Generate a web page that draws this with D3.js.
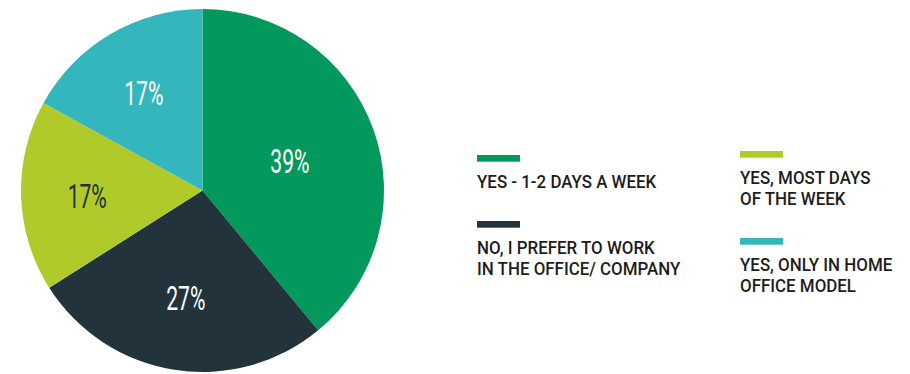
<!DOCTYPE html>
<html>
<head>
<meta charset="utf-8">
<script src="https://cdn.jsdelivr.net/npm/d3@7/dist/d3.min.js"></script>
<style>
  html, body { margin: 0; padding: 0; background: #ffffff; }
  svg { display: block; }
</style>
</head>
<body>
<svg id="chart" width="910" height="374"></svg>
<script>
// ---- data ----
const categories = [
  "YES - 1-2 DAYS A WEEK",
  "NO, I PREFER TO WORK IN THE OFFICE/ COMPANY",
  "YES, MOST DAYS OF THE WEEK",
  "YES, ONLY IN HOME OFFICE MODEL"
];
const values = [39, 27, 17, 17];
const legendLines = [
  ["YES - 1-2 DAYS A WEEK"],
  ["NO, I PREFER TO WORK", "IN THE OFFICE/ COMPANY"],
  ["YES, MOST DAYS", "OF THE WEEK"],
  ["YES, ONLY IN HOME", "OFFICE MODEL"]
];
const colors = ["#03995d", "#22333b", "#afca29", "#33b6bc"];
const labelColors = ["#ffffff", "#ffffff", "#22333b", "#ffffff"];

// ---- layout ----
const svg = d3.select("#chart");
const cx = 202.5, cy = 190.5, R = 181.5;

const pie = d3.pie().sort(null).value(d => d.value);
const arcs = pie(values.map((v, i) => ({ value: v, i })));
const arc = d3.arc().innerRadius(0).outerRadius(R);

const g = svg.append("g").attr("transform", `translate(${cx},${cy})`);
g.selectAll("path").data(arcs).enter().append("path")
  .attr("d", arc)
  .attr("fill", d => colors[d.data.i]);

// labels at the area centroid of each sector
g.selectAll("g.lbl").data(arcs).enter().append("g")
  .attr("class", "lbl")
  .attr("transform", d => {
    const half = (d.endAngle - d.startAngle) / 2;
    const mid = (d.startAngle + d.endAngle) / 2;
    const dist = 2 * R * Math.sin(half) / (3 * half);
    const x = dist * Math.sin(mid), y = -dist * Math.cos(mid);
    return `translate(${x},${y + 2}) scale(0.64,1)`;
  })
  .append("text")
  .attr("text-anchor", "middle")
  .attr("dy", "0.36em")
  .attr("font-family", "Roboto, sans-serif")
  .attr("font-size", 33)
  .attr("font-weight", 400)
  .attr("fill", d => labelColors[d.data.i])
  .text(d => d.data.value + "%");

// ---- legend ----
const columns = [
  { x: 477, y: 155, items: [0, 1] },
  { x: 740, y: 151, items: [2, 3] }
];
const swW = 43, swH = 6.7, toBase = 33.3, lineH = 21, gapAfter = 32.7;
columns.forEach(col => {
  let y = col.y;
  col.items.forEach(i => {
    svg.append("rect")
      .attr("x", col.x).attr("y", y)
      .attr("width", swW).attr("height", swH)
      .attr("fill", colors[i]);
    let base = y + toBase;
    legendLines[i].forEach((line, k) => {
      const by = base + k * lineH;
      svg.append("g")
        .attr("transform", `translate(${col.x},${by}) scale(0.94,1)`)
        .append("text")
        .attr("font-family", "Roboto, sans-serif")
        .attr("font-size", 18)
        .attr("font-weight", 500)
        .attr("fill", "#1d1d1b")
        .text(line);
    });
    y = base + (legendLines[i].length - 1) * lineH + gapAfter;
  });
});
</script>
</body>
</html>
